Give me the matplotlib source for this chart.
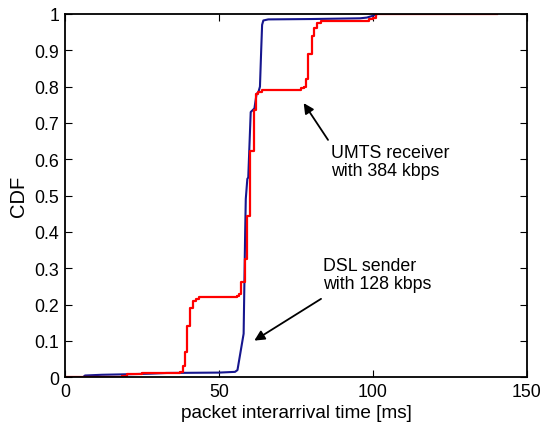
import numpy as np
import matplotlib.pyplot as plt

plt.rcParams['font.family'] = ['Liberation Sans', 'DejaVu Sans']

# CDF of packet interarrival times (ms)
dsl_t = [0, 5.8, 6.5, 12, 18, 27.6, 33, 50, 55.2, 56.0, 56.6, 57.2, 57.6,
         58.0, 58.2, 58.5, 58.7, 59.2, 59.5, 60.3, 61.5, 62.2, 62.8, 63.3,
         63.7, 64.0, 64.4, 66, 80, 95.8, 98, 100, 101.5, 103, 140]
dsl_cdf = [0, 0, 0.005, 0.007, 0.008, 0.01, 0.012, 0.013, 0.015, 0.02, 0.05,
           0.08, 0.1, 0.12, 0.234, 0.4, 0.491, 0.546, 0.55, 0.73, 0.74, 0.78,
           0.785, 0.8, 0.9, 0.97, 0.982, 0.985, 0.986, 0.988, 0.99, 0.995,
           1.0, 1.0, 1.0]

umts_t = [0, 17.6, 18.5, 20, 22, 25, 36.6, 37.5, 38.2, 38.9, 39.7, 40.6,
          41.6, 42.5, 43.6, 55.9, 56.5, 57.2, 58.3, 59.2, 60.0, 61.3, 62.1,
          62.8, 64.0, 76.6, 77.5, 78.2, 79.0, 80.1, 80.9, 81.8, 83.1, 98.8,
          100.0, 101.0, 140.3]
umts_cdf = [0, 0, 0.005, 0.008, 0.01, 0.012, 0.013, 0.015, 0.03, 0.07, 0.14,
            0.19, 0.21, 0.215, 0.22, 0.225, 0.23, 0.263, 0.326, 0.445, 0.624,
            0.735, 0.78, 0.785, 0.792, 0.795, 0.8, 0.82, 0.89, 0.94, 0.96,
            0.975, 0.98, 0.985, 0.99, 1.0, 1.0]

fig = plt.figure(figsize=(5.43, 4.27), dpi=100)
ax = fig.add_axes([0.1197, 0.114, 0.8508, 0.851])

ax.plot(dsl_t, dsl_cdf, color='#16168e', linewidth=1.5)
ax.plot(umts_t, umts_cdf, color='#ff0000', linewidth=1.6, drawstyle='steps-post')

ax.set_xlim(0, 150)
ax.set_ylim(0, 1)
ax.set_xticks([0, 50, 100, 150])
ax.set_yticks(np.arange(0, 1.01, 0.1))
ax.set_yticklabels(['0', '0.1', '0.2', '0.3', '0.4', '0.5', '0.6', '0.7',
                    '0.8', '0.9', '1'])
ax.tick_params(direction='in', top=True, right=True, length=5, width=0.8,
               labelsize=12.8, pad=4)
for s in ax.spines.values():
    s.set_linewidth(1.3)

ax.set_xlabel('packet interarrival time [ms]', fontsize=13.7, labelpad=3)
ax.set_ylabel('CDF', fontsize=14.5, labelpad=5)

arrow = dict(arrowstyle='-|>', color='black', lw=1.3, mutation_scale=15)
ax.annotate('', xy=(77.0, 0.761), xytext=(85.9, 0.647), arrowprops=arrow)
ax.text(86.5, 0.641, 'UMTS receiver\nwith 384 kbps', fontsize=12.8,
        va='top', ha='left', linespacing=1.05)
ax.annotate('', xy=(60.7, 0.097), xytext=(83.9, 0.220), arrowprops=arrow)
ax.text(83.9, 0.33, 'DSL sender\nwith 128 kbps', fontsize=12.8,
        va='top', ha='left', linespacing=1.05)

fig.savefig('out.png', dpi=100)
